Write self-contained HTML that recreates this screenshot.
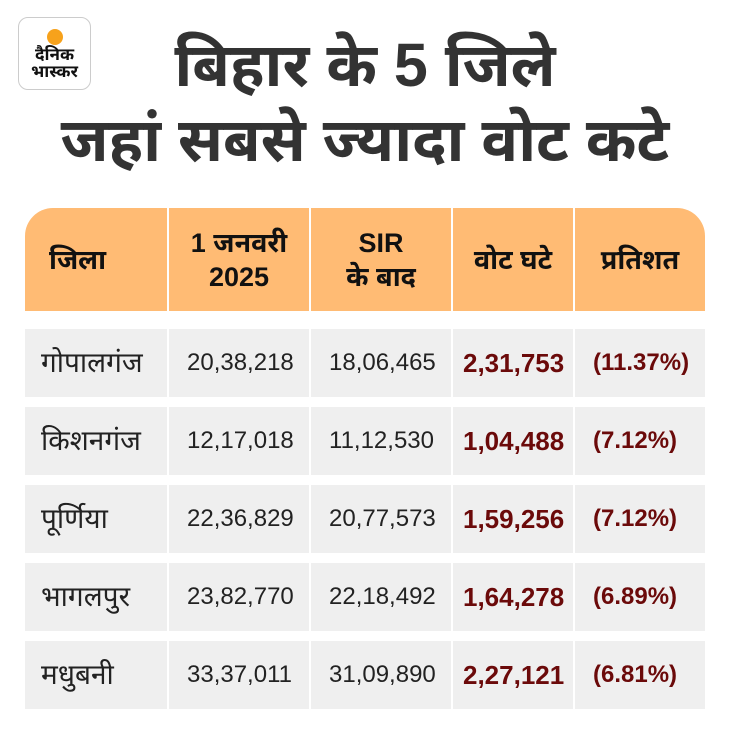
<!DOCTYPE html>
<html><head><meta charset="utf-8"><style>
body{margin:0;width:730px;height:732px;background:#fff;position:relative;overflow:hidden;font-family:"Liberation Sans","Noto Sans Devanagari","Lohit Devanagari",sans-serif;}
.logo{position:absolute;left:18px;top:17px;width:73px;height:73px;border:1px solid #ccc;border-radius:10px;background:#fff;box-sizing:border-box;text-align:center;}
.dot{position:absolute;left:28px;top:11px;width:16px;height:16px;border-radius:50%;background:#f7a21b;}
.lt{position:absolute;left:0;width:100%;top:28px;font-weight:bold;font-size:17px;line-height:17px;color:#111;}
.title{position:absolute;left:0;width:730px;text-align:center;font-weight:bold;color:#333;font-size:61px;line-height:76px;}
.cell{position:absolute;box-sizing:border-box;display:flex;align-items:center;font-size:24px;color:#222;}
.h{background:#ffbb74;font-weight:bold;color:#111;font-size:27px;text-align:center;justify-content:center;line-height:34px;}
.r{background:#efefef;}
.red{color:#6b0a0a;font-weight:bold;}
.big{font-size:26px;}
.nm{font-size:28px;padding-top:4px;}
</style></head><body>
<div class="logo"><div class="dot"></div><div class="lt">दैनिक<br>भास्कर</div></div>
<div class="title" style="top:27px;">बिहार के 5 जिले</div>
<div class="title" style="top:102px;">जहां सबसे ज्यादा वोट कटे</div>

<div class="cell h" style="left:25px;top:208px;width:142px;height:103px;border-top-left-radius:28px;justify-content:flex-start;padding-left:24px">जिला</div>
<div class="cell h" style="left:169px;top:208px;width:140px;height:103px">1 जनवरी<br>2025</div>
<div class="cell h" style="left:311px;top:208px;width:140px;height:103px">SIR<br>के बाद</div>
<div class="cell h" style="left:453px;top:208px;width:120px;height:103px">वोट घटे</div>
<div class="cell h" style="left:575px;top:208px;width:130px;height:103px;border-top-right-radius:28px">प्रतिशत</div>

<div id="rows"></div>
<script>
var d=[["गोपालगंज","20,38,218","18,06,465","2,31,753","(11.37%)"],["किशनगंज","12,17,018","11,12,530","1,04,488","(7.12%)"],["पूर्णिया","22,36,829","20,77,573","1,59,256","(7.12%)"],["भागलपुर","23,82,770","22,18,492","1,64,278","(6.89%)"],["मधुबनी","33,37,011","31,09,890","2,27,121","(6.81%)"]];
var cols=[[25,142],[169,140],[311,140],[453,120],[575,130]];var h="";
d.forEach(function(r,i){var t=329+i*78;r.forEach(function(v,j){var c=cols[j];
h+='<div class="cell r'+(j>=3?' red':'')+(j==3?' big':'')+(j==0?' nm':'')+'" style="left:'+c[0]+'px;top:'+t+'px;width:'+c[1]+'px;height:68px;padding-left:'+(j==0?16:(j==3?10:18))+'px">'+v+'</div>';});});
document.getElementById("rows").innerHTML=h;
</script>
</body></html>
